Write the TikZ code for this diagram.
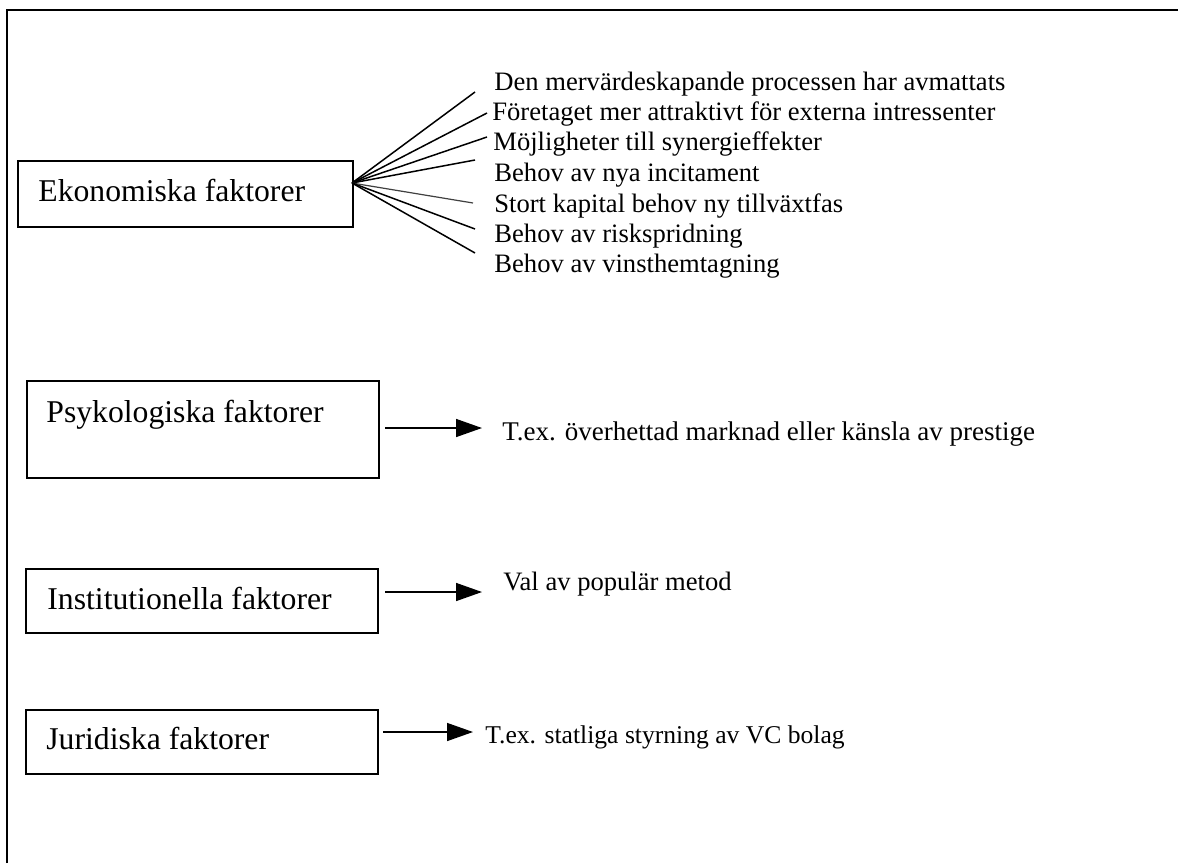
\documentclass[tikz,border=0pt]{standalone}
\usepackage{fontspec}
\setmainfont{Liberation Serif}
\usetikzlibrary{arrows.meta}
\begin{document}
\begin{tikzpicture}[x=0.5pt,y=-0.5pt,
  factorbox/.style={draw, line width=0.8pt, minimum width=#1, anchor=north west, inner sep=0pt},
  bigtext/.style={anchor=base west, inner sep=0pt, font=\fontsize{15.85pt}{18pt}\selectfont},
  smalltext/.style={anchor=base west, inner sep=0pt, font=\fontsize{13.3pt}{15pt}\selectfont},
  fanline/.style={line width=0.75pt},
  arrowline/.style={line width=0.75pt, -{Triangle[length=13pt,width=9pt]}}]
\useasboundingbox[fill=white] (0,0) rectangle (1178,863);
% outer frame (top and left only)
\draw[line width=1pt] (7,863) -- (7,10) -- (1178,10);

% boxes
\node[factorbox=167.5pt, minimum height=33pt] (ebox) at (17,160) {};
\node[factorbox=176pt, minimum height=48.5pt] (pbox) at (26,380) {};
\node[factorbox=176pt, minimum height=32pt] (ibox) at (25,568) {};
\node[factorbox=176pt, minimum height=32pt] (jbox) at (25,709) {};

\node[bigtext] (etext) at (38,201) {Ekonomiska faktorer};
\node[bigtext] (ptext) at (46,422) {Psykologiska faktorer};
\node[bigtext] (itext) at (47,609) {Institutionella faktorer};
\node[bigtext] (jtext) at (46,749) {Juridiska faktorer};

% list of economic factors
\node[smalltext] (l1) at (494,90) {Den mervärdeskapande processen har avmattats};
\node[smalltext] (l2) at (492,120) {Företaget mer attraktivt för externa intressenter};
\node[smalltext] (l3) at (493,150) {Möjligheter till synergieffekter};
\node[smalltext] (l4) at (494,181) {Behov av nya incitament};
\node[smalltext] (l5) at (494,212) {Stort kapital behov ny tillväxtfas};
\node[smalltext] (l6) at (494,242) {Behov av riskspridning};
\node[smalltext] (l7) at (494,272) {Behov av vinsthemtagning};

% fan
\coordinate (fo) at (352,183);
\coordinate (f1) at (475,92);
\coordinate (f2) at (487,113);
\coordinate (f3) at (487,137);
\coordinate (f4) at (475,160);
\coordinate (f5) at (473,203);
\coordinate (f6) at (475,229);
\coordinate (f7) at (475,253);
\draw[fanline] (fo) -- (f1);
\draw[fanline] (fo) -- (f2);
\draw[fanline] (fo) -- (f3);
\draw[fanline] (fo) -- (f4);
\draw[fanline, black!75, line width=0.6pt] (fo) -- (f5);
\draw[fanline] (fo) -- (f6);
\draw[fanline] (fo) -- (f7);

% arrows and texts
\coordinate (pa) at (385,428);
\coordinate (pb) at (482,428);
\draw[arrowline] (pa) -- (pb);
\node[smalltext, font=\fontsize{13.5pt}{15pt}\selectfont] (ptx) at (502,440) {T.ex. överhettad marknad eller känsla av prestige};

\coordinate (ia) at (385,592);
\coordinate (ib) at (482,592);
\draw[arrowline] (ia) -- (ib);
\node[smalltext] (itx) at (503,590) {Val av populär metod};

\coordinate (ja) at (383,732);
\coordinate (jb) at (473,732);
\draw[arrowline] (ja) -- (jb);
\node[smalltext, font=\fontsize{12.8pt}{15pt}\selectfont] (jtx) at (485,743) {T.ex. statliga styrning av VC bolag};
\end{tikzpicture}
\end{document}
